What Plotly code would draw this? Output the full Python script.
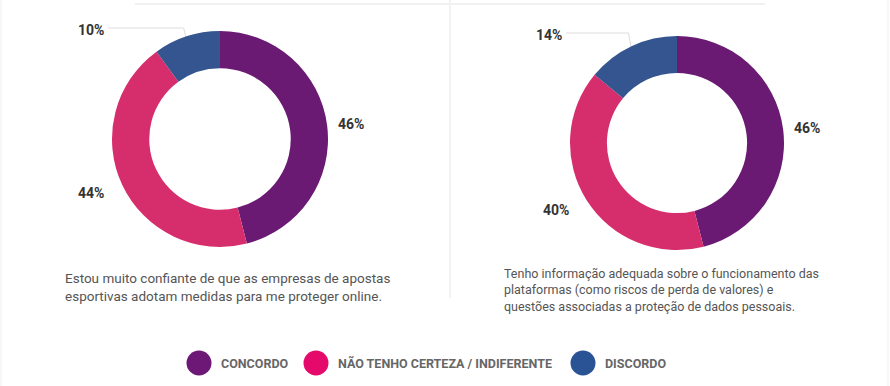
import math
import plotly.graph_objects as go

# ---------------- data ----------------
categories = ["CONCORDO", "NÃO TENHO CERTEZA / INDIFERENTE", "DISCORDO"]
values_left = [46, 44, 10]
values_right = [46, 40, 14]
caption_left = "Estou muito confiante de que as empresas de apostas<br>esportivas adotam medidas para me proteger online."
caption_right = ("Tenho informação adequada sobre o funcionamento das<br>"
                 "plataformas (como riscos de perda de valores) e<br>"
                 "questões associadas a proteção de dados pessoais.")

# ---------------- style / layout ----------------
W, H = 890, 386
pie_colors = ["#6b1a73", "#d62e6c", "#34558f"]
legend_colors = ["#6d1877", "#e5096b", "#2a5395"]
label_font = dict(family="Roboto", size=14, color="#333333")
legend_font = dict(family="Roboto", size=12.5, color="#666666")

pies = [
    dict(values=values_left, cx=220, cy=139, r=108, caption=caption_left, cap_x=63, cap_y=268, cap_size=13.5),
    dict(values=values_right, cx=677, cy=143, r=107, caption=caption_right, cap_x=502, cap_y=264, cap_size=12.5),
]
legend_x = [199, 316, 583]
legend_y = 363

fig = go.Figure()
annotations = []
shapes = []

# frame decorations
shapes.append(dict(type="line", xref="x", yref="y", x0=135, x1=765, y0=4, y1=4,
                   line=dict(color="#ececec", width=1.5)))
shapes.append(dict(type="line", xref="x", yref="y", x0=450, x1=450, y0=0, y1=298,
                   line=dict(color="#f2f2f2", width=2)))
shapes.append(dict(type="line", xref="x", yref="y", x0=1, x1=1, y0=0, y1=386,
                   line=dict(color="#f4f4f4", width=1.5)))
shapes.append(dict(type="line", xref="x", yref="y", x0=888, x1=888, y0=0, y1=386,
                   line=dict(color="#f4f4f4", width=1.5)))

for p in pies:
    cx, cy, r = p["cx"], p["cy"], p["r"]
    fig.add_trace(go.Pie(
        labels=categories, values=p["values"], hole=0.655, sort=False,
        direction="clockwise", rotation=0, textinfo="none", hoverinfo="label+percent",
        marker=dict(colors=pie_colors, line=dict(width=0)),
        showlegend=False,
        domain=dict(x=[(cx - r) / W, (cx + r) / W], y=[1 - (cy + r) / H, 1 - (cy - r) / H]),
    ))
    total = sum(p["values"])
    cum = 0
    for v in p["values"]:
        frac = v / total
        mid = (cum + frac / 2) * 2 * math.pi
        cum += frac
        s, c = math.sin(mid), math.cos(mid)
        txt = f"<b>{v}%</b>"
        if frac >= 0.15:
            rl = r + (9 if s > 0 else 18)
            annotations.append(dict(x=cx + rl * s, y=cy - rl * c, xref="x", yref="y", text=txt,
                                    showarrow=False, font=label_font,
                                    xanchor="left" if s > 0 else "right", yanchor="middle"))
        else:
            ly = cy - r - 3
            xe = cx + r * s
            xs = cx - r - 4
            fig.add_trace(go.Scatter(
                x=[xs, xe - 3, xe], y=[ly, ly, cy - (r - 4) * c], mode="lines",
                line=dict(color="#dddddd", width=1), hoverinfo="skip", showlegend=False))
            annotations.append(dict(x=xs - 2, y=ly + 1.5, xref="x", yref="y", text=txt,
                                    showarrow=False, font=label_font,
                                    xanchor="right", yanchor="middle"))
    annotations.append(dict(x=p["cap_x"], y=p["cap_y"], xref="x", yref="y", text=p["caption"],
                            showarrow=False,
                            font=dict(family="Roboto", size=p["cap_size"], color="#555555"),
                            align="left", xanchor="left", yanchor="top"))

# legend
fig.add_trace(go.Scatter(
    x=legend_x, y=[legend_y] * len(categories), mode="markers",
    marker=dict(size=25, color=legend_colors, line=dict(width=0)),
    hoverinfo="skip", showlegend=False))
for lx, name in zip(legend_x, categories):
    annotations.append(dict(x=lx + 20, y=legend_y, xref="x", yref="y", text=f"<b>{name}</b>",
                            showarrow=False, font=legend_font, xanchor="left", yanchor="middle"))

fig.update_layout(
    width=W, height=H, margin=dict(l=0, r=0, t=0, b=0),
    paper_bgcolor="white", plot_bgcolor="white",
    xaxis=dict(range=[0, W], visible=False, fixedrange=True, domain=[0, 1]),
    yaxis=dict(range=[H, 0], visible=False, fixedrange=True, domain=[0, 1]),
    annotations=annotations, shapes=shapes, showlegend=False,
)
fig.write_html("out.html", config={"displayModeBar": False},
               post_script="document.body.style.margin='0';document.body.style.padding='0';")
